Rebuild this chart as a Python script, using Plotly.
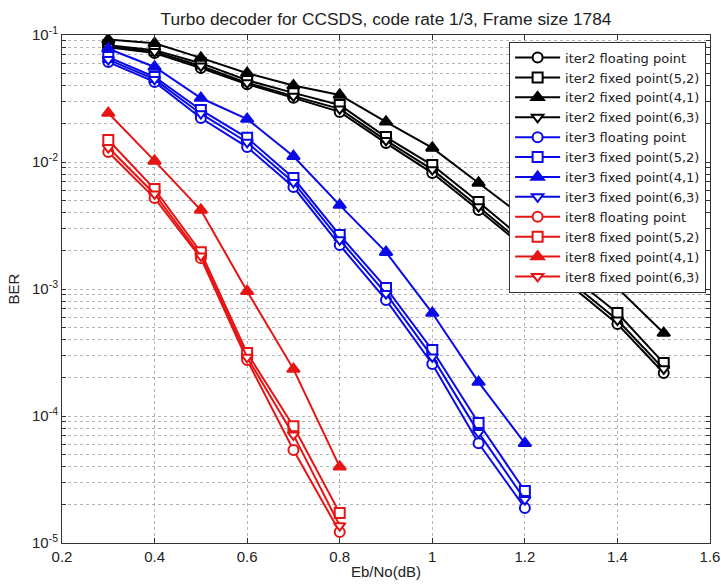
import plotly.graph_objects as go

# Eb/No grid (dB) for each iteration count
ebno_iter2 = [0.3, 0.4, 0.5, 0.6, 0.7, 0.8, 0.9, 1.0, 1.1, 1.2, 1.3, 1.4, 1.5]
ebno_iter3 = [0.3, 0.4, 0.5, 0.6, 0.7, 0.8, 0.9, 1.0, 1.1, 1.2]
ebno_iter8 = [0.3, 0.4, 0.5, 0.6, 0.7, 0.8]

# BER, 2 iterations
ber_i2_float = [0.080, 0.072, 0.055, 0.041, 0.032, 0.0248, 0.0141, 0.00818, 0.00419, 0.0021, 0.00106, 0.00053, 0.000218]
ber_i2_52 = [0.083, 0.076, 0.060, 0.044, 0.035, 0.0281, 0.0157, 0.00946, 0.00484, 0.0024, 0.00126, 0.000647, 0.000261]
ber_i2_41 = [0.092, 0.086, 0.066, 0.050, 0.040, 0.0337, 0.0207, 0.0129, 0.00684, 0.00362, 0.00192, 0.00102, 0.00045]
ber_i2_63 = [0.081, 0.074, 0.057, 0.042, 0.033, 0.0262, 0.0148, 0.00870, 0.00445, 0.0022, 0.00113, 0.00057, 0.000235]

# BER, 3 iterations
ber_i3_float = [0.0612, 0.0427, 0.0222, 0.0131, 0.00635, 0.00222, 0.00082, 0.000257, 6.1e-5, 1.89e-5]
ber_i3_52 = [0.067, 0.0467, 0.0257, 0.0155, 0.00748, 0.00266, 0.00102, 0.000331, 8.8e-5, 2.57e-5]
ber_i3_41 = [0.078, 0.056, 0.0319, 0.0218, 0.0111, 0.00458, 0.00195, 0.000647, 0.000185, 6.1e-5]
ber_i3_63 = [0.064, 0.0447, 0.0240, 0.0143, 0.00690, 0.00244, 0.00092, 0.000292, 7.4e-5, 2.2e-5]

# BER, 8 iterations
ber_i8_float = [0.012, 0.0052, 0.00175, 0.000276, 5.4e-5, 1.22e-5]
ber_i8_52 = [0.0149, 0.00612, 0.00195, 0.000313, 8.3e-5, 1.72e-5]
ber_i8_41 = [0.0243, 0.0102, 0.00419, 0.00096, 0.000234, 3.98e-5]
ber_i8_63 = [0.013, 0.0056, 0.00182, 0.00029, 7.1e-5, 1.37e-5]

x_ticks = [0.2, 0.4, 0.6, 0.8, 1.0, 1.2, 1.4, 1.6]
x_tick_labels = ["0.2", "0.4", "0.6", "0.8", "1", "1.2", "1.4", "1.6"]
decades = [-5, -4, -3, -2, -1]

BLACK = "#000000"
BLUE = "#0a0ae6"
RED = "#e61414"

series = [
    ("iter2 floating point", ebno_iter2, ber_i2_float, BLACK, "circle"),
    ("iter2 fixed point(5,2)", ebno_iter2, ber_i2_52, BLACK, "square"),
    ("iter2 fixed point(4,1)", ebno_iter2, ber_i2_41, BLACK, "triangle-up"),
    ("iter2 fixed point(6,3)", ebno_iter2, ber_i2_63, BLACK, "triangle-down"),
    ("iter3 floating point", ebno_iter3, ber_i3_float, BLUE, "circle"),
    ("iter3 fixed point(5,2)", ebno_iter3, ber_i3_52, BLUE, "square"),
    ("iter3 fixed point(4,1)", ebno_iter3, ber_i3_41, BLUE, "triangle-up"),
    ("iter3 fixed point(6,3)", ebno_iter3, ber_i3_63, BLUE, "triangle-down"),
    ("iter8 floating point", ebno_iter8, ber_i8_float, RED, "circle"),
    ("iter8 fixed point(5,2)", ebno_iter8, ber_i8_52, RED, "square"),
    ("iter8 fixed point(4,1)", ebno_iter8, ber_i8_41, RED, "triangle-up"),
    ("iter8 fixed point(6,3)", ebno_iter8, ber_i8_63, RED, "triangle-down"),
]

fig = go.Figure()
for name, xs, ys, color, symbol in series:
    filled = symbol == "triangle-up"
    fig.add_trace(go.Scatter(
        x=xs, y=ys, name=name, mode="lines+markers",
        line=dict(color=color, width=2),
        marker=dict(symbol=symbol, size=10 if symbol != "triangle-up" else 11,
                    color=color if filled else "white",
                    line=dict(color=color, width=2)),
    ))

# log-axis ticks: every 1..9 x 10^k, labelled only at decades
y_tickvals, y_ticktext = [], []
for d in decades:
    for m in range(1, 10):
        if d == -1 and m > 1:
            break
        y_tickvals.append(m * 10.0 ** d)
        y_ticktext.append(f"10<sup>{d}</sup>" if m == 1 else "")

grid = "rgba(120,120,120,0.55)"
fig.update_layout(
    width=721, height=584,
    margin=dict(l=62, r=11, t=35, b=41),
    paper_bgcolor="white", plot_bgcolor="white",
    font=dict(family="Liberation Sans, Arial, sans-serif", size=15, color="#222"),
    title=dict(text="Turbo decoder for CCSDS, code rate 1/3, Frame size 1784",
               x=0.5, xref="paper", xanchor="center", y=0.968, yanchor="middle",
               font=dict(size=17.3, color="#222")),
    showlegend=True,
    legend=dict(x=0.994, y=0.987, xanchor="right", yanchor="top",
                bgcolor="white", bordercolor="#333", borderwidth=1,
                font=dict(family="DejaVu Sans, sans-serif", size=13, color="#222"),
                tracegroupgap=0, itemwidth=45),
    xaxis=dict(range=[0.2, 1.6], tickvals=x_ticks, ticktext=x_tick_labels,
               showgrid=True, gridcolor=grid, griddash="dot", gridwidth=1,
               ticks="inside", ticklen=5, tickcolor="#333",
               showline=True, linecolor="#333", linewidth=1, mirror="allticks",
               zeroline=False, automargin=False,
               title=dict(text="Eb/No(dB)", standoff=2, font=dict(size=15))),
    yaxis=dict(type="log", range=[-5, -1], tickvals=y_tickvals, ticktext=y_ticktext,
               showgrid=True, gridcolor=grid, griddash="dot", gridwidth=1,
               ticks="inside", ticklen=4, tickcolor="#333",
               showline=True, linecolor="#333", linewidth=1, mirror="allticks",
               zeroline=False, automargin=False,
               title=dict(text="BER", standoff=8, font=dict(size=15))),
)

fig.write_html("out.html")
